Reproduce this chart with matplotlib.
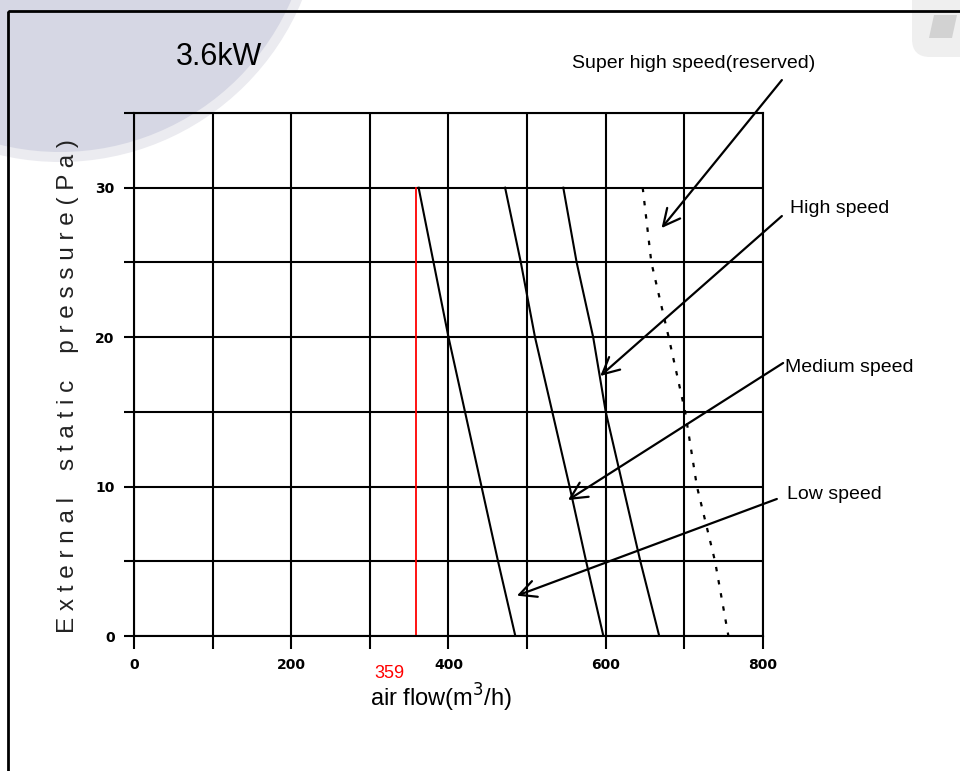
import matplotlib
matplotlib.use("Agg")
import matplotlib.pyplot as plt
from matplotlib.patches import Circle, Rectangle, FancyBboxPatch, Polygon

plt.rcParams['font.family'] = ['Liberation Sans', 'DejaVu Sans']

# curves: pressure (Pa) vs air flow (m3/h)
pressure = [30, 25, 20, 15, 10, 5, 0]
low_speed = [362, 381, 400, 421, 442, 463, 485]
medium_speed = [472, 492, 510, 532, 554, 575, 597]
high_speed = [546, 563, 584, 600, 622, 644, 668]
super_high = [647, 658, 680, 701, 716, 739, 756]

red_x = 359
red_top = 30

x_ticks = [0, 200, 400, 600, 800]
y_ticks = [0, 10, 20, 30]

labels = ["Super high speed(reserved)", "High speed", "Medium speed", "Low speed"]
# arrow heads in data coords (on the curves)
arrow_heads = [(671, 27.3), (593, 17.4), (552, 9.1), (487, 2.7)]

fig = plt.figure(figsize=(9.6, 7.71), dpi=100)

# background decoration in pixel coords
bg = fig.add_axes([0, 0, 1, 1], zorder=0)
bg.set_xlim(0, 960)
bg.set_ylim(771, 0)
bg.axis('off')
bg.add_patch(Circle((60, -100), 262, color='#ebebf0', lw=0))
bg.add_patch(Circle((60, -100), 252, color='#d6d7e4', lw=0))
bg.add_patch(FancyBboxPatch((912, -20), 85, 77, boxstyle="round,pad=0,rounding_size=18",
                            fc='#efefef', ec='none'))
bg.add_patch(Polygon([[934, 15], [957, 15], [952, 38], [929, 38]], closed=True,
                     fc='#d2d2d2', ec='none'))
bg.add_patch(Rectangle((8, 11), 1100, 1000, fill=False, ec='black', lw=2))

ax = fig.add_axes([134 / 960, 1 - 636 / 771, 629 / 960, 523 / 771], zorder=1)
ax.set_facecolor('none')

ax.plot(low_speed, pressure, color='black', lw=1.5)
ax.plot(medium_speed, pressure, color='black', lw=1.5)
ax.plot(high_speed, pressure, color='black', lw=1.5)
ax.plot(super_high, pressure, color='black', lw=1.6, linestyle=(0, (2, 4)))
ax.plot([red_x, red_x], [0, red_top], color='red', lw=1.3)

ax.set_xlim(0, 800)
ax.set_ylim(0, 35)
ax.set_xticks(x_ticks)
ax.set_yticks(y_ticks)
ax.set_xticks(range(0, 801, 100), minor=True)
ax.set_yticks(range(0, 36, 5), minor=True)
ax.grid(which='both', color='black', lw=1.5)
for s in ax.spines.values():
    s.set_linewidth(1.5)
ax.tick_params(which='both', direction='out', length=7, width=1.5, color='black')
ax.tick_params(axis='x', which='both', length=9)
ax.tick_params(labelsize=10, pad=7)
for t in ax.get_xticklabels() + ax.get_yticklabels():
    t.set_fontweight('bold')
    t.set_family('DejaVu Sans')

ax.annotate(str(red_x), xy=(red_x, 0), xytext=(-27, -37), textcoords='offset pixels',
            color='red', fontsize=13, ha='center', va='center', annotation_clip=False)

ax.text(0.488, -0.119, 'air flow(m$^3$/h)', transform=ax.transAxes, fontsize=17,
        ha='center', va='center')
ylab = "    ".join(" ".join(w) for w in ["External", "static", "pressure(Pa)"])
ax.text(-0.105, 0.478, ylab, transform=ax.transAxes, fontsize=17.5, rotation=90,
        ha='center', va='center', color='#222222')

ax.text(0.135, 1.107, '3.6kW', transform=ax.transAxes, fontsize=22, ha='center', va='center')

text_pos = [(0.889, 1.094, 'center'), (1.043, 0.818, 'left'),
            (1.035, 0.514, 'left'), (1.038, 0.2715, 'left')]
tails = [(1.030, 1.063), (1.030, 0.803), (1.032, 0.522), (1.022, 0.262)]

for lab, (tx, ty, ha), tail, head in zip(labels, text_pos, tails, arrow_heads):
    ax.text(tx, ty, lab, transform=ax.transAxes, fontsize=14, ha=ha, va='center')
    ax.annotate('', xy=head, xycoords='data', xytext=tail, textcoords='axes fraction',
                arrowprops=dict(arrowstyle='->, head_length=0.6, head_width=0.3',
                                mutation_scale=20, lw=1.6, color='black',
                                shrinkA=0, shrinkB=0),
                annotation_clip=False)

fig.savefig('out.png', dpi=100)
